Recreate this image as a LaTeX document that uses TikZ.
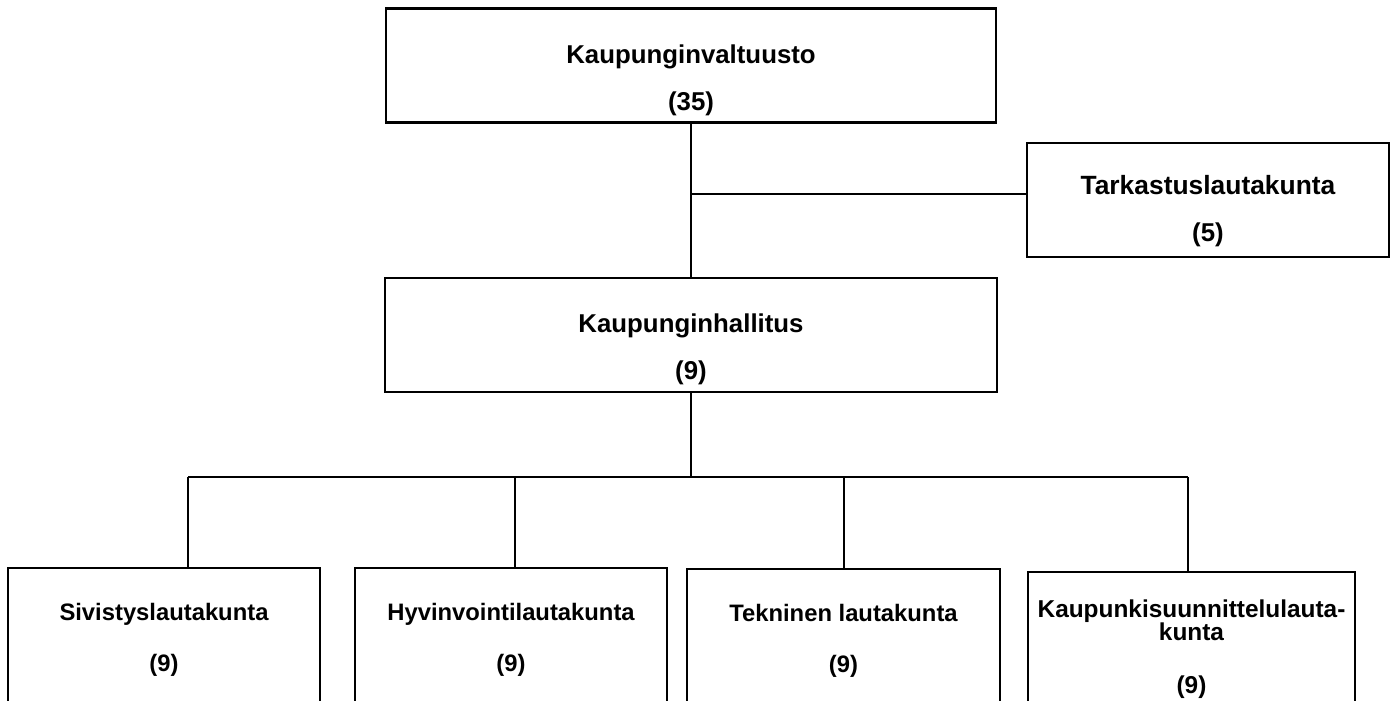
\documentclass[tikz,border=0pt]{standalone}
\usepackage{fontspec}
\setmainfont{Liberation Sans}
\usetikzlibrary{calc}

\tikzset{
  ruutu/.style={draw, line width=1.1pt, minimum width=#1, minimum height=57pt, inner sep=0pt},
  alaruutu/.style={draw, line width=1.1pt, minimum width=#1, minimum height=100pt, inner sep=0pt},
  teksti/.style={align=center, inner sep=0pt}
}

\begin{document}
\begin{tikzpicture}[x=0.5pt,y=-0.5pt,line width=1pt,
    font=\bfseries\fontsize{12.9}{23.5}\selectfont]
  \useasboundingbox (0,0) rectangle (1394,701);
  \clip (0,0) rectangle (1394,701);

  % valtuusto ja hallitus
  \node[ruutu=305pt] (valtuusto) at (691,65.5) {};
  \node[teksti] at ([yshift=-7.25pt]valtuusto.center) {Kaupunginvaltuusto\\(35)};
  \node[ruutu=181pt] (tarkastus) at (1208,200) {};
  \node[teksti] at ([yshift=-5.5pt]tarkastus.center) {\fontsize{13.2}{22.5}\selectfont Tarkastuslautakunta\\(5)};
  \node[ruutu=306pt] (hallitus) at (691,335) {};
  \node[teksti] at ([yshift=-7pt]hallitus.center) {\fontsize{12.9}{22.5}\selectfont Kaupunginhallitus\\(9)};

  % lautakunnat
  \node[alaruutu=156pt] (siv) at (164,668) {};
  \node[alaruutu=156pt] (hyv) at (511,668) {};
  \node[alaruutu=156.5pt] (tek) at (843.5,669) {};
  \node[alaruutu=163.5pt] (kau) at (1191.5,672) {};
  \foreach \n/\t in {siv/Sivistyslautakunta, hyv/Hyvinvointilautakunta, tek/Tekninen lautakunta} {
    \node[teksti, font=\bfseries\fontsize{11.9}{25.5}\selectfont] at ([yshift=-36.5pt]\n.north) {\t\\(9)};
  }
  \node[teksti, font=\bfseries\fontsize{12.2}{11.5}\selectfont] at ([yshift=-39.25pt]kau.north)
    {Kaupunkisuunnittelulauta-\\kunta\\[15pt](9)};

  % yhteydet
  \coordinate (liitos) at (691,194);
  \coordinate (haara) at (691,477);
  \coordinate (haaraV) at (188,477);
  \coordinate (haaraO) at (1188,477);
  \draw (valtuusto) -- (hallitus);
  \draw (liitos) -- (liitos -| tarkastus.west);
  \draw (hallitus) -- (haara);
  \draw (haaraV) -- (haaraO);
  \draw (haaraV) -- (haaraV |- siv.north);
  \draw ([xshift=2pt]hyv.north) -- ([xshift=2pt]hyv.north |- haara);
  \draw (tek.north) -- (tek.north |- haara);
  \draw (haaraO) -- (haaraO |- kau.north);
\end{tikzpicture}
\end{document}
